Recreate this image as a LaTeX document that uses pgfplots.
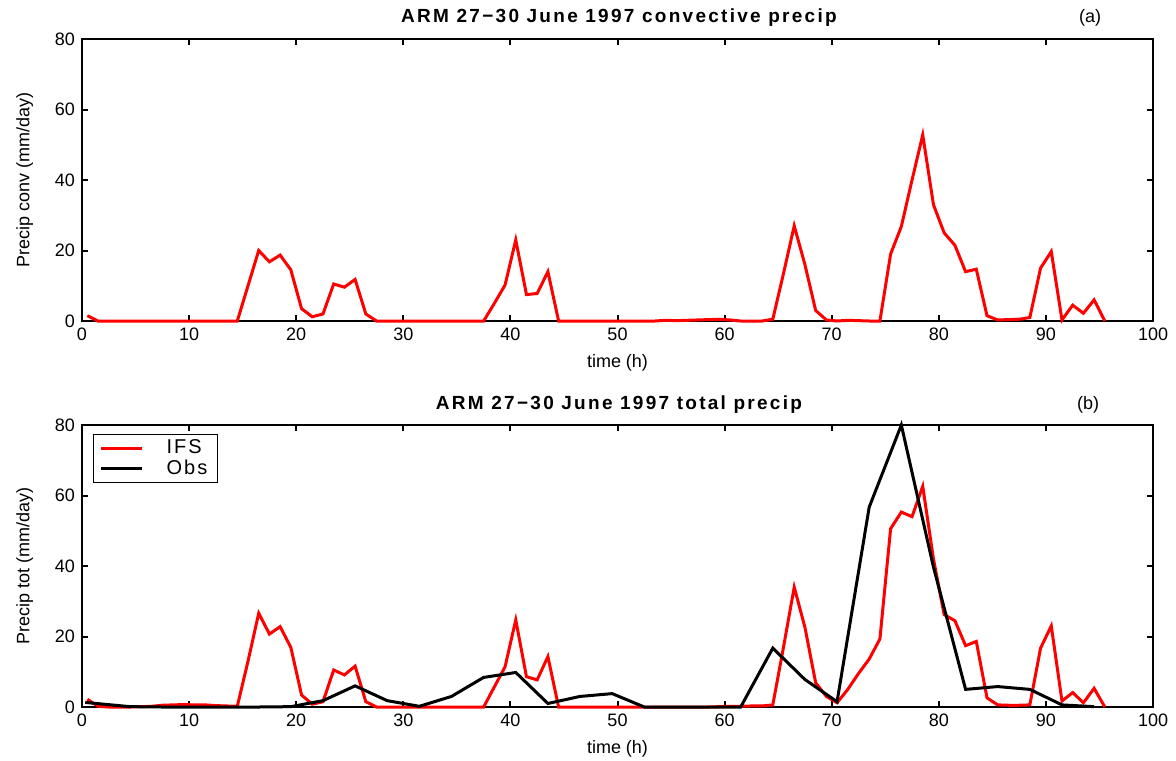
\documentclass[border=0pt]{standalone}
\usepackage{pgfplots}
\pgfplotsset{compat=1.18}
\usepackage{fontspec}
\setmainfont{Liberation Sans}
\newfontfamily\titlefont[LetterSpace=12]{Liberation Sans}
\newfontfamily\legfont[LetterSpace=10]{Liberation Sans}
\begin{document}
\begin{tikzpicture}
\pgfplotsset{
  myax/.style={
    scale only axis, width=535.5pt, height=141pt,
    xmin=0, xmax=100, ymin=0, ymax=80,
    xtick={0,10,...,100}, ytick={0,20,...,80},
    tick align=inside, major tick length=3pt,
    axis line style={line width=1pt, black},
    tick style={line width=1pt, black},
    /pgf/number format/assume math mode=true,
    ticklabel style={font=\fontsize{9}{10}\selectfont},
    label style={font=\fontsize{9}{10}\selectfont},
    ylabel style={xshift=0pt, yshift=4pt},
    clip=false,
  }
}
\path[use as bounding box] (0,0) rectangle (588pt,-380pt);
\begin{axis}[myax, at={(41pt,-160.5pt)}, anchor=south west,
  xlabel={time (h)}, ylabel={Precip conv (mm/day)}]
\addplot[red, line width=1.5pt] table {
0.5 1.5
1.5 0
2.5 0
3.5 0
4.5 0
5.5 0
6.5 0
7.5 0
8.5 0
9.5 0
10.5 0
11.5 0
12.5 0
13.5 0
14.5 0
15.5 10
16.5 20
17.5 16.8
18.5 18.7
19.5 14.5
20.5 3.5
21.5 1.2
22.5 2
23.5 10.5
24.5 9.6
25.5 11.8
26.5 2
27.5 0
28.5 0
29.5 0
30.5 0
31.5 0
32.5 0
33.5 0
34.5 0
35.5 0
36.5 0
37.5 0
38.5 5
39.5 10.2
40.5 23
41.5 7.5
42.5 7.8
43.5 14
44.5 0
45.5 0
46.5 0
47.5 0
48.5 0
49.5 0
50.5 0
51.5 0
52.5 0
53.5 0
54.5 0.2
55.5 0.1
56.5 0.2
57.5 0.3
58.5 0.4
59.5 0.5
60.5 0.3
61.5 0
62.5 0
63.5 0
64.5 0.5
65.5 13.5
66.5 27
67.5 16
68.5 3
69.5 0.3
70.5 0
71.5 0.2
72.5 0.1
73.5 0
74.5 0
75.5 19
76.5 26.8
77.5 40
78.5 52.8
79.5 33
80.5 25
81.5 21.5
82.5 14
83.5 14.7
84.5 1.5
85.5 0.3
86.5 0.4
87.5 0.5
88.5 1
89.5 15
90.5 19.7
91.5 0.3
92.5 4.5
93.5 2.2
94.5 6
95.5 0
};
\end{axis}
\begin{axis}[myax, at={(41pt,-353.5pt)}, anchor=south west,
  xlabel={time (h)}, ylabel={Precip tot (mm/day)},
  legend style={at={(0.0103,0.968)}, anchor=north west, draw=black, line width=0.6pt,
    font=\legfont\fontsize{10}{11}\selectfont, inner xsep=3pt, inner ysep=0.5pt, row sep=-2.5pt},
  legend cell align=left,
  legend image code/.code={\draw[#1, line width=1.5pt] (2pt,0pt) -- (22.5pt,0pt); \path (32pt,0pt);}]
\addplot[red, line width=1.5pt] table {
0.5 2.2
1.5 0.2
2.5 0
3.5 0
4.5 0
5.5 0.1
6.5 0.2
7.5 0.5
8.5 0.6
9.5 0.7
10.5 0.6
11.5 0.6
12.5 0.4
13.5 0.3
14.5 0.2
15.5 13
16.5 26.6
17.5 20.7
18.5 22.8
19.5 16.9
20.5 3.4
21.5 0.8
22.5 1.5
23.5 10.5
24.5 9.1
25.5 11.6
26.5 1.5
27.5 0
28.5 0
29.5 0
30.5 0
31.5 0
32.5 0
33.5 0
34.5 0
35.5 0
36.5 0
37.5 0
38.5 5.7
39.5 11.4
40.5 24.7
41.5 8.6
42.5 7.7
43.5 14.3
44.5 0
45.5 0
46.5 0
47.5 0
48.5 0
49.5 0
50.5 0
51.5 0
52.5 0
53.5 0
54.5 0
55.5 0
56.5 0
57.5 0
58.5 0
59.5 0.1
60.5 0.2
61.5 0.2
62.5 0.3
63.5 0.3
64.5 0.6
65.5 17
66.5 34
67.5 22.6
68.5 6.9
69.5 3
70.5 1.2
71.5 5
72.5 9.5
73.5 13.6
74.5 19.3
75.5 50.6
76.5 55.3
77.5 54
78.5 62.6
79.5 42
80.5 26.2
81.5 24.5
82.5 17.4
83.5 18.6
84.5 2.6
85.5 0.6
86.5 0.5
87.5 0.5
88.5 0.6
89.5 16.7
90.5 23
91.5 1.7
92.5 4.1
93.5 1.2
94.5 5.3
95.5 0
};
\addlegendentry{IFS}
\addplot[black, line width=1.5pt] table {
0.3 1.3
4.5 0.1
7.5 0
10.5 0
13.5 0
16.5 0
19.5 0.1
22.5 1.8
25.5 6
28.5 1.8
31.5 0.2
34.5 3
37.5 8.4
40.5 9.8
43.5 1
46.5 3
49.5 3.8
52.5 0
55.5 0
58.5 0
61.5 0
64.5 16.7
67.5 7.8
70.5 1.5
73.5 56.7
76.5 80
79.5 39.7
82.5 5
85.5 5.8
88.5 5
91.5 0.6
94.5 0.1
};
\addlegendentry{Obs}
\end{axis}
\node[font=\titlefont\fontsize{9.5}{11}\selectfont\bfseries] at (309.5pt,-9pt) {ARM 27−30 June 1997 convective precip};
\node[font=\fontsize{9}{10}\selectfont] at (545pt,-9pt) {(a)};
\node[font=\titlefont\fontsize{9.5}{11}\selectfont\bfseries] at (309.5pt,-202.5pt) {ARM 27−30 June 1997 total precip};
\node[font=\fontsize{9}{10}\selectfont] at (544pt,-202.5pt) {(b)};
\end{tikzpicture}
\end{document}
